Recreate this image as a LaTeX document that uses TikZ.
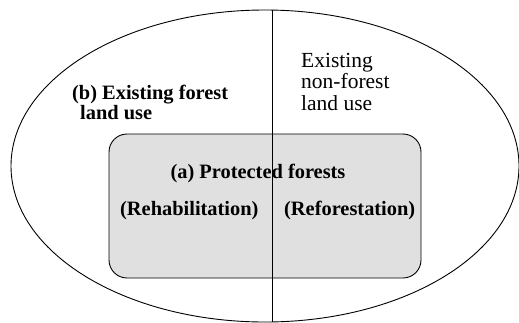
\documentclass[tikz,border=0pt]{standalone}
\usepackage{fontspec}
\setmainfont{Liberation Serif}
\usetikzlibrary{shapes.geometric,positioning}
\definecolor{protected}{RGB}{224,224,224}
\tikzset{%
  landuse/.style={draw, ellipse, line width=0.9pt, inner sep=0pt},% whole area
  forest/.style={draw, rectangle, rounded corners=18pt, fill=protected,
    line width=0.9pt, inner sep=0pt},% protected forests box
  divider/.style={line width=0.9pt},% forest / non-forest split
  txt/.style={anchor=base west, inner sep=0pt, align=left,
    font=\fontsize{21.5}{21.5}\selectfont},
  btxt/.style={txt, font=\fontsize{20.4}{20}\selectfont\bfseries}
}
\begin{document}
\begin{tikzpicture}[x=1pt, y=-1pt]
\useasboundingbox (0,0) rectangle (519,322);

\node[landuse, minimum width=508pt, minimum height=312pt] (area) at (265,166) {};
\node[forest, minimum width=312pt, minimum height=144pt] (prot) at (265,206) {};

\coordinate (top) at (272,10);
\coordinate (bot) at (272,322);
\draw[divider] (top) -- (bot);

% multi-line labels sit on the baseline of their last line
\node[btxt] (exist) at (72,119) {(b) Existing forest\\\hspace{8pt}land use};
\node[txt] (nonf) at (301,110) {Existing\\non-forest\\land use};
\node[btxt, anchor=base] (pfor) at (258,178) {(a) Protected forests};
\node[btxt] (rehab) at (120,215) {(Rehabilitation)};
\node[btxt] (refor) at (284,215) {(Reforestation)};
\end{tikzpicture}
\end{document}
